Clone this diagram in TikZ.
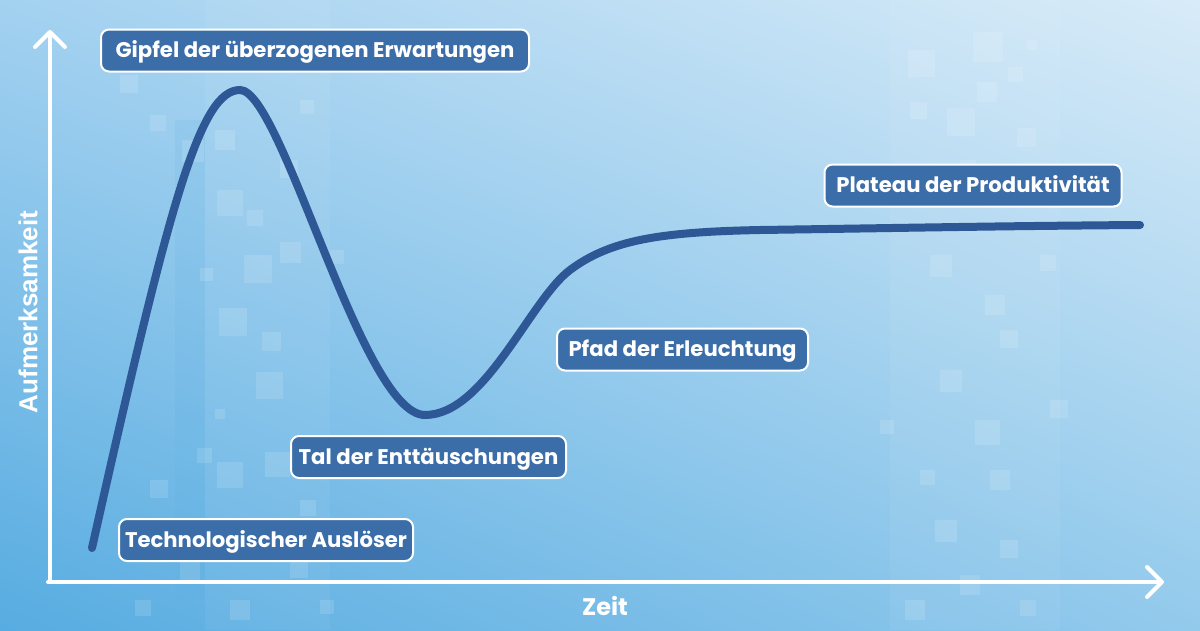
\documentclass[tikz,border=0pt]{standalone}
\usepackage{fontspec}
\setmainfont{Poppins}[BoldFont={Poppins Bold}]
\newfontfamily\ylabfont{Liberation Sans}
\usetikzlibrary{arrows.meta,shadings}
\definecolor{curveblue}{HTML}{2E5796}
\definecolor{boxblue}{HTML}{3B6DA8}
\definecolor{bgLL}{HTML}{57ACE1}
\definecolor{bgUL}{HTML}{A3D1F0}
\definecolor{bgLR}{HTML}{93CAEC}
\definecolor{bgUR}{HTML}{D8EBF8}
\begin{document}
\begin{tikzpicture}[x=1pt,y=-1pt,
  phase/.style={draw=white, line width=2pt, fill=boxblue, rounded corners=8pt,
    text=white, font=\bfseries\fontsize{21.2}{24}\selectfont,
    inner xsep=0pt, inner ysep=0pt, minimum height=42pt,
    text height=18pt, text depth=3.5pt},
  axis/.style={draw=white, line width=4pt, line cap=round,
    -{Straight Barb[length=15pt,width=30pt,round]}},
  hype/.style={draw=curveblue, line width=8pt, line cap=round},
  deco/.style={fill=white, fill opacity=0.13},
  decodark/.style={fill=bgLL, fill opacity=0.12}]
% background
\shade[upper left=bgUL, upper right=bgUR, lower left=bgLL, lower right=bgLR]
  (0,0) rectangle (1200,630);
\useasboundingbox (0,0) rectangle (1200,630);
% faint bands
\fill[white, fill opacity=0.05] (205,0) rectangle (330,630);
\fill[white, fill opacity=0.05] (890,0) rectangle (1060,630);
\fill[decodark] (175,120) rectangle (205,600);
% decorative squares, left band
\foreach \x/\y/\s in {120/75/18, 150/115/16, 182/140/22, 215/130/20, 217/190/26, 247/210/16,
  280/242/21, 244/255/28, 200/268/13, 219/308/28, 262/332/19, 256/372/27, 215/409/10,
  197/448/15, 265/452/25, 217/462/26, 280/160/18, 300/100/14, 150/480/18, 240/520/22,
  300/500/16, 180/560/20, 290/560/18, 230/600/20, 320/600/14, 135/600/16, 330/250/14}
  \fill[deco] (\x,\y) rectangle ++(\s,\s);
% decorative squares, right band
\foreach \x/\y/\s in {908/50/27, 973/32/30, 1008/67/15, 977/82/20, 910/102/17, 947/108/28,
  1017/128/19, 1027/40/10, 985/295/20, 1000/330/18, 940/370/22, 975/420/25, 920/470/15,
  990/470/20, 935/520/22, 1000/540/18, 960/575/20, 905/600/20, 1040/255/16, 930/255/22,
  1050/400/18, 880/420/14, 1020/600/16, 960/160/16}
  \fill[deco] (\x,\y) rectangle ++(\s,\s);
% axes
\coordinate (origin) at (50,582);
\coordinate (ytip) at (50,30);
\coordinate (xstart) at (48,582);
\coordinate (xtip) at (1164,582);
\draw[axis] (origin) -- (ytip);
\draw[axis] (xstart) -- (xtip);
\node[font=\bfseries\fontsize{24}{27}\selectfont, text=white] (zeit) at (605,606) {Zeit};
\node[font=\ylabfont\bfseries\fontsize{26}{30}\selectfont, text=white, rotate=90] (aufm) at (28,312) {Aufmerksamkeit};
% hype curve
\coordinate (c0) at (92,548);
\coordinate (c1) at (240,90);
\coordinate (c2) at (425,415);
\coordinate (c3) at (570,270);
\coordinate (c4) at (760,230);
\coordinate (c5) at (1140,225);
\draw[hype] (c0) .. controls (170,200) and (200,90) .. (c1)
  .. controls (282,90) and (362,415) .. (c2)
  .. controls (485,415) and (530,300) .. (c3)
  .. controls (610,240) and (660,232) .. (c4)
  .. controls (900,228) and (1000,226) .. (c5);
% phase labels
\node[phase, minimum width=428pt] (gipfel) at (315,50.5) {Gipfel der überzogenen Erwartungen};
\node[phase, minimum width=297pt] (plateau) at (973,185.5) {Plateau der Produktivität};
\node[phase, minimum width=251pt] (pfad) at (682.5,349.5) {Pfad der Erleuchtung};
\node[phase, minimum width=275pt] (tal) at (428.5,457) {Tal der Enttäuschungen};
\node[phase, minimum width=294pt] (trigger) at (266,540) {Technologischer Auslöser};
\end{tikzpicture}
\end{document}
